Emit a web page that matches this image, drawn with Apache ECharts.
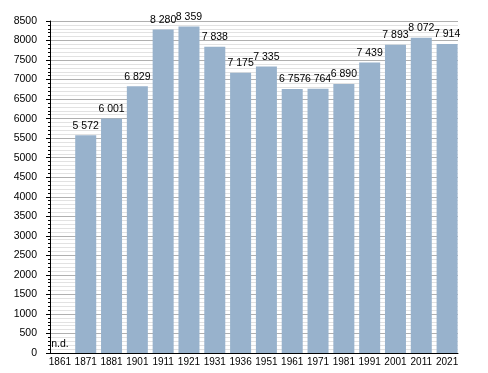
<!DOCTYPE html>
<html><head><meta charset="utf-8">
<script src="https://cdn.jsdelivr.net/npm/echarts@6/dist/echarts.min.js"></script>
<style>html,body{margin:0;padding:0;background:#fff}#c{width:488px;height:373px}</style>
</head><body><div id="c"></div>
<script>
const categories = ['1861','1871','1881','1901','1911','1921','1931','1936','1951','1961','1971','1981','1991','2001','2011','2021'];
const population = [null,5572,6001,6829,8280,8359,7838,7175,7335,6757,6764,6890,7439,7893,8072,7914];
const missingLabel = 'n.d.';
const yTicks = {min:0, max:8500, interval:500};

function fmt(v){ return String(v).replace(/\B(?=(\d{3})+(?!\d))/g,' '); }

const chart = echarts.init(document.getElementById('c'));
chart.setOption({
  animation:false,
  textStyle:{fontFamily:'Liberation Sans, Arial, sans-serif'},
  grid:[
    {left:50, right:30, top:21, bottom:20, containLabel:false},
    {left:47, right:28, top:21, bottom:20, containLabel:false}
  ],
  xAxis:[
    {gridIndex:0, type:'category', data:categories,
      axisLine:{lineStyle:{color:'#000', width:1}}, axisTick:{show:false}, axisLabel:{show:false}, splitLine:{show:false}},
    {gridIndex:1, type:'category', data:categories,
      axisLine:{show:false}, axisTick:{show:false},
      axisLabel:{color:'#000', fontSize:10, margin:4, interval:0}}
  ],
  yAxis:[
    {gridIndex:0, type:'value', min:yTicks.min, max:yTicks.max, interval:yTicks.interval,
      axisLine:{show:true, lineStyle:{color:'#000', width:1}},
      axisTick:{show:true, length:4, lineStyle:{color:'#000'}},
      minorTick:{show:true, splitNumber:5, length:2, lineStyle:{color:'#000'}},
      splitLine:{show:true, lineStyle:{color:'#b0b0b0', width:1}},
      minorSplitLine:{show:true, lineStyle:{color:'#e2e2e2', width:1}},
      axisLabel:{color:'#000', fontSize:10.5, margin:13, formatter:v => String(v)}},
    {gridIndex:1, type:'value', min:yTicks.min, max:yTicks.max, interval:yTicks.interval,
      axisLine:{show:false}, axisTick:{show:false}, axisLabel:{show:false}, splitLine:{show:false}}
  ],
  series:[{
    type:'bar', xAxisIndex:1, yAxisIndex:1,
    data:population.map(v => v===null ? {value:0, label:{show:true, position:'insideBottom', distance:3, formatter:missingLabel}} : v),
    barWidth:21,
    itemStyle:{color:'#98b2cc'},
    label:{show:true, position:'top', distance:4, color:'#000', fontSize:10.5,
      formatter:p => p.value===0 ? missingLabel : fmt(p.value)}
  }]
});
</script></body></html>
